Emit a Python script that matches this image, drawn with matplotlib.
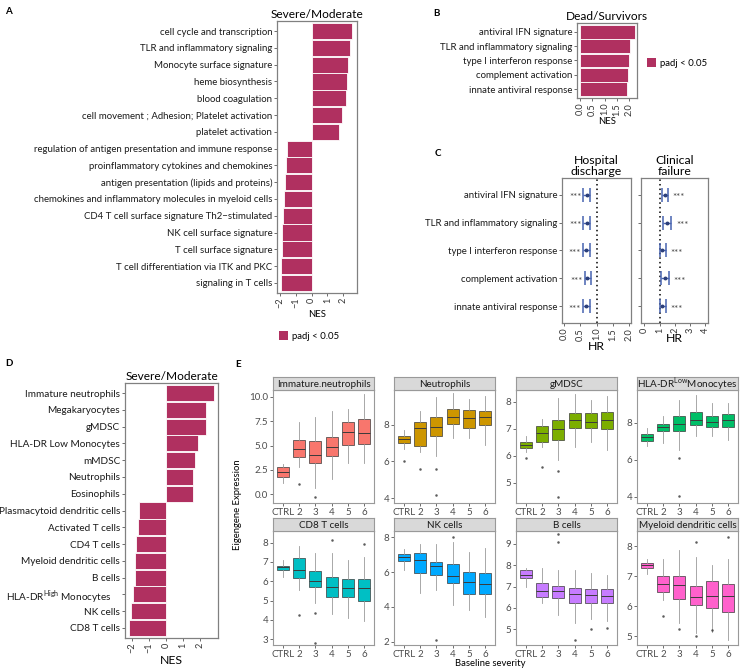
import numpy as np
import matplotlib.pyplot as plt
from matplotlib.patches import Patch

plt.rcParams['font.family'] = ['Lato', 'DejaVu Sans']
plt.rcParams['mathtext.fontset'] = 'custom'
plt.rcParams['mathtext.rm'] = 'Lato'

# ---- data ----
a_labels = ['cell cycle and transcription', 'TLR and inflammatory signaling', 'Monocyte surface signature',
            'heme biosynthesis', 'blood coagulation', 'cell movement ; Adhesion; Platelet activation',
            'platelet activation', 'regulation of antigen presentation and immune response',
            'proinflammatory cytokines and chemokines', 'antigen presentation (lipids and proteins)',
            'chemokines and inflammatory molecules in myeloid cells',
            'CD4 T cell surface signature Th2\u2212stimulated', 'NK cell surface signature',
            'T cell surface signature', 'T cell differentiation via ITK and PKC', 'signaling in T cells']
a_nes = [2.55, 2.45, 2.27, 2.25, 2.17, 1.92, 1.70, -1.55, -1.62, -1.67, -1.73, -1.80, -1.85, -1.86, -1.92, -1.95]

b_labels = ['antiviral IFN signature', 'TLR and inflammatory signaling', 'type I interferon response',
            'complement activation', 'innate antiviral response']
b_nes = [2.24, 2.04, 2.01, 1.97, 1.94]

c_labels = b_labels
hd_hr = [0.69, 0.69, 0.67, 0.72, 0.68]
hd_lo = [0.59, 0.59, 0.57, 0.63, 0.57]
hd_hi = [0.81, 0.80, 0.79, 0.83, 0.79]
cf_hr = [1.35, 1.46, 1.17, 1.35, 1.17]
cf_lo = [1.17, 1.20, 1.02, 1.13, 1.02]
cf_hi = [1.56, 1.78, 1.41, 1.61, 1.41]

d_labels = ['Immature neutrophils', 'Megakaryocytes', 'gMDSC', 'HLA-DR Low Monocytes', 'mMDSC',
            'Neutrophils', 'Eosinophils', 'Plasmacytoid dendritic cells', 'Activated T cells',
            'CD4 T cells', 'Myeloid dendritic cells', 'B cells',
            'HLA-DR$^{\\rm High}$ Monocytes    ', 'NK cells', 'CD8 T cells']
d_nes = [2.82, 2.35, 2.35, 1.86, 1.72, 1.60, 1.57, -1.61, -1.67, -1.75, -1.80, -1.84, -1.94, -2.04, -2.18]

e_groups = ['CTRL', '2', '3', '4', '5', '6']
# per group: [whisker low, q1, median, q3, whisker high]
imm_stats = [[1.2, 1.8, 2.3, 2.75, 3.1], [2.8, 3.8, 4.6, 5.55, 7.45], [0.6, 3.2, 4.0, 5.5, 7.9],
             [1.6, 3.95, 4.9, 5.85, 8.5], [3.25, 5.05, 6.4, 7.45, 8.75], [3.2, 5.2, 6.25, 7.7, 10.3]]
imm_out = [[], [1.0], [-0.3], [], [], []]
neu_stats = [[6.7, 7.0, 7.23, 7.4, 7.73], [6.54, 6.83, 7.8, 8.13, 8.76], [6.3, 7.4, 7.9, 8.45, 9.5],
             [7.3, 8.04, 8.4, 8.85, 9.75], [7.3, 7.85, 8.35, 8.8, 9.43], [6.9, 7.98, 8.4, 8.75, 9.57]]
neu_out = [[6.0], [5.6], [5.57, 4.15], [], [], []]
gmd_stats = [[6.16, 6.29, 6.4, 6.5, 6.72], [6.35, 6.53, 6.84, 7.1, 7.37], [5.85, 6.6, 6.99, 7.33, 8.15],
             [6.32, 7.02, 7.33, 7.6, 8.3], [6.53, 7.02, 7.27, 7.6, 8.07], [6.22, 6.99, 7.33, 7.64, 8.2]]
gmd_out = [[5.93], [5.6], [5.45, 4.5], [], [], []]
hla_stats = [[6.75, 6.98, 7.22, 7.38, 7.7], [6.9, 7.57, 7.75, 7.93, 8.36], [6.54, 7.52, 7.93, 8.36, 9.22],
             [7.25, 7.88, 8.14, 8.59, 9.48], [7.25, 7.75, 8.05, 8.36, 9.04], [7.07, 7.75, 8.14, 8.47, 9.04]]
hla_out = [[], [], [6.1, 4.03], [], [], []]
cd8_stats = [[6.24, 6.58, 6.72, 6.81, 7.1], [5.55, 6.15, 6.58, 7.19, 7.8], [4.86, 5.69, 6.03, 6.55, 7.45],
             [4.3, 5.17, 5.69, 6.24, 7.45], [4.08, 5.17, 5.64, 6.1, 7.1], [3.94, 5.0, 5.64, 6.1, 7.24]]
cd8_out = [[], [4.25], [4.35, 2.8], [8.13], [], [7.93]]
nk_stats = [[6.12, 6.66, 6.89, 7.04, 7.31], [4.78, 5.97, 6.7, 7.08, 7.61], [4.97, 5.83, 6.35, 6.6, 7.61],
            [4.1, 5.39, 5.78, 6.47, 7.75], [3.82, 4.74, 5.45, 6.02, 7.17], [3.44, 4.74, 5.32, 5.93, 7.37]]
nk_out = [[], [], [2.1], [8.0], [], []]
b_stats = [[7.0, 7.39, 7.55, 7.75, 7.86], [6.22, 6.5, 6.81, 7.16, 7.86], [5.67, 6.45, 6.81, 7.03, 7.75],
           [5.28, 6.22, 6.66, 6.92, 7.78], [5.47, 6.22, 6.6, 6.88, 7.63], [5.4, 6.22, 6.56, 6.88, 7.55]]
b_out = [[], [], [9.47, 9.1], [4.5], [5.0], [5.05]]
mdc_stats = [[7.08, 7.28, 7.36, 7.45, 7.58], [6.2, 6.47, 6.73, 6.99, 7.58], [5.42, 6.25, 6.69, 6.99, 7.88],
             [5.09, 6.03, 6.29, 6.66, 7.63], [5.14, 5.92, 6.33, 6.84, 7.36], [4.87, 5.81, 6.33, 6.75, 7.58]]
mdc_out = [[], [5.66], [5.25], [8.13, 5.0], [5.2], [8.3]]

BAR = '#B03060'
GREY = '#808080'
W, H = 740, 668
fig = plt.figure(figsize=(W / 100, H / 100), dpi=100)


def add_ax(l, t, r, b):
    return fig.add_axes([l / W, 1 - b / H, (r - l) / W, (b - t) / H])


def frame(ax, color=GREY, lw=0.9):
    for s in ax.spines.values():
        s.set_color(color)
        s.set_linewidth(lw)
    ax.tick_params(length=2, width=0.6, color='#555555', pad=1.5)


def nes_panel(ax, labels, values, xlim, xticks, xtlabels, title, lsize, nes_size):
    n = len(labels)
    y = np.arange(n)[::-1]
    ax.barh(y, values, height=0.96, color=BAR, edgecolor='white', linewidth=0.6)
    ax.set_ylim(-0.6, n - 0.4)
    ax.set_xlim(*xlim)
    ax.set_yticks(y)
    ax.set_yticklabels(labels, fontsize=lsize, color='#1a1a1a')
    ax.set_xticks(xticks)
    ax.set_xticklabels(xtlabels, rotation=90, fontsize=6.6, color='#333333')
    ax.set_xlabel('NES', fontsize=nes_size, labelpad=1)
    ax.set_title(title, fontsize=8.6, pad=2)
    frame(ax)


# ---- A ----
axA = add_ax(277, 21, 357, 293)
nes_panel(axA, a_labels, a_nes, (-2.19, 2.87), [-2, -1, 0, 1, 2],
          ['\u22122', '\u22121', '0', '1', '2'], 'Severe/Moderate', 6.9, 6.8)
axA.legend(handles=[Patch(facecolor=BAR, label='padj < 0.05')], loc='upper left',
           bbox_to_anchor=(0.02, -0.14), frameon=False, fontsize=6.9,
           handlelength=1.0, handleheight=1.1, borderpad=0, borderaxespad=0, handletextpad=0.4)

# ---- B ----
axB = add_ax(577, 23, 637, 98)
nes_panel(axB, b_labels, b_nes, (-0.14, 2.34), [0, 0.5, 1, 1.5, 2],
          ['0.0', '0.5', '1.0', '1.5', '2.0'], 'Dead/Survivors', 6.9, 6.8)
axB.legend(handles=[Patch(facecolor=BAR, label='padj < 0.05')], loc='center left',
           bbox_to_anchor=(1.16, 0.47), frameon=False, fontsize=6.9,
           handlelength=1.0, handleheight=1.1, borderpad=0, borderaxespad=0, handletextpad=0.4)

# ---- C ----
yc = np.arange(len(c_labels))[::-1]
axC1 = add_ax(562, 178, 631, 323)
axC2 = add_ax(641, 178, 708, 323)
for ax, hr, lo, hi, xlim, xt, xtl, title, side in [
        (axC1, hd_hr, hd_lo, hd_hi, (-0.07, 2.07), [0, 0.5, 1, 1.5, 2], ['0.0', '0.5', '1.0', '1.5', '2.0'],
         'Hospital\ndischarge', 'left'),
        (axC2, cf_hr, cf_lo, cf_hi, (-0.21, 4.17), [0, 1, 2, 3, 4], ['0', '1', '2', '3', '4'],
         'Clinical\nfailure', 'right')]:
    hr, lo, hi = np.array(hr), np.array(lo), np.array(hi)
    ax.axvline(1, color='black', linestyle=(0, (1, 2)), linewidth=1.1)
    ax.errorbar(hr, yc, xerr=[hr - lo, hi - hr], fmt='o', ms=1.8, color='#2B3F7A',
                ecolor='#4763B0', elinewidth=1.0, capsize=5, capthick=1.1)
    for yi, l, h in zip(yc, lo, hi):
        if side == 'left':
            ax.text(l - 0.06, yi - 0.1, '***', ha='right', va='center', fontsize=7, color='#444444')
        else:
            ax.text(h + 0.3, yi - 0.1, '***', ha='left', va='center', fontsize=7, color='#444444')
    ax.set_ylim(0.4 - 1, len(yc) - 0.4)
    ax.set_xlim(*xlim)
    ax.set_yticks(yc)
    ax.set_xticks(xt)
    ax.set_xticklabels(xtl, rotation=90, fontsize=6.6, color='#333333')
    ax.set_xlabel('HR', fontsize=8.8, labelpad=0)
    ax.set_title(title, fontsize=8.8, pad=2, linespacing=1.0)
    frame(ax)
axC1.set_yticklabels(c_labels, fontsize=6.9, color='#1a1a1a')
axC2.set_yticklabels([])

# ---- D ----
axD = add_ax(125, 383, 218, 638)
nes_panel(axD, d_labels, d_nes, (-2.41, 3.06), [-2, -1, 0, 1, 2],
          ['\u22122', '\u22121', '0', '1', '2'], 'Severe/Moderate', 7.2, 8.8)

# ---- E ----
panels = [
    ('Immature.neutrophils', imm_stats, imm_out, '#F8766D', (-0.9, 10.7), [0, 2.5, 5, 7.5, 10], '%.1f'),
    ('Neutrophils', neu_stats, neu_out, '#CD9600', (3.73, 9.9), [4, 6, 8], '%d'),
    ('gMDSC', gmd_stats, gmd_out, '#7CAE00', (4.26, 8.44), [5, 6, 7, 8], '%d'),
    ('HLA-DR$^{\\rm Low}$Monocytes', hla_stats, hla_out, '#00BE67', (3.66, 9.76), [4, 6, 8], '%d'),
    ('CD8 T cells', cd8_stats, cd8_out, '#00BFC4', (2.7, 8.6), [3, 4, 5, 6, 7, 8], '%d'),
    ('NK cells', nk_stats, nk_out, '#00A9FF', (1.81, 8.36), [2, 4, 6, 8], '%d'),
    ('B cells', b_stats, b_out, '#C77CFF', (4.26, 9.6), [5, 6, 7, 8, 9], '%d'),
    ('Myeloid dendritic cells', mdc_stats, mdc_out, '#FF61CC', (4.7, 8.5), [5, 6, 7, 8], '%d'),
]
col_left = [273, 394, 516, 637]
rows = [(377, 390, 503), (518, 531, 645)]
pos = np.arange(1, len(e_groups) + 1)
for i, (name, stats, outs, col, ylim, yt, fmt) in enumerate(panels):
    st, pt, pb = rows[i // 4]
    l = col_left[i % 4]
    ax = add_ax(l, pt, l + 101, pb)
    sax = add_ax(l, st, l + 101, pt)
    bx = [dict(whislo=s[0], q1=s[1], med=s[2], q3=s[3], whishi=s[4], fliers=o) for s, o in zip(stats, outs)]
    ax.bxp(bx, positions=pos, widths=0.75, patch_artist=True, showcaps=False,
           boxprops=dict(facecolor=col, edgecolor='#3a3a3a', linewidth=0.5),
           medianprops=dict(color='#3a3a3a', linewidth=0.7),
           whiskerprops=dict(color='#9a9a9a', linewidth=0.6),
           flierprops=dict(marker='o', markersize=1.8, markerfacecolor='#333333',
                           markeredgecolor='none', alpha=0.8))
    ax.set_xlim(0.4, 6.6)
    ax.set_ylim(*ylim)
    ax.set_xticks(pos)
    ax.set_xticklabels(e_groups, fontsize=7, color='#4d4d4d')
    ax.set_yticks(yt)
    ax.set_yticklabels([fmt % v for v in yt], fontsize=7, color='#4d4d4d')
    frame(ax, '#999999', 0.8)
    sax.set_facecolor('#D9D9D9')
    sax.set_xticks([])
    sax.set_yticks([])
    frame(sax, '#999999', 0.8)
    sax.text(0.5, 0.45, name, ha='center', va='center', fontsize=7.1, color='#1a1a1a', transform=sax.transAxes)

fig.text(237 / W, 1 - 505 / H, 'Eigengene Expression', rotation=90, ha='center', va='center', fontsize=6.8)
fig.text(490 / W, 1 - 663 / H, 'Baseline severity', ha='center', va='center', fontsize=6.8)

for lab, x, y in [('A', 5, 12), ('B', 433, 13), ('C', 435, 153), ('D', 5, 363), ('E', 235, 365)]:
    fig.text(x / W, 1 - y / H, lab, fontsize=7, fontweight='bold', va='center')

fig.savefig('out.png', dpi=100)
